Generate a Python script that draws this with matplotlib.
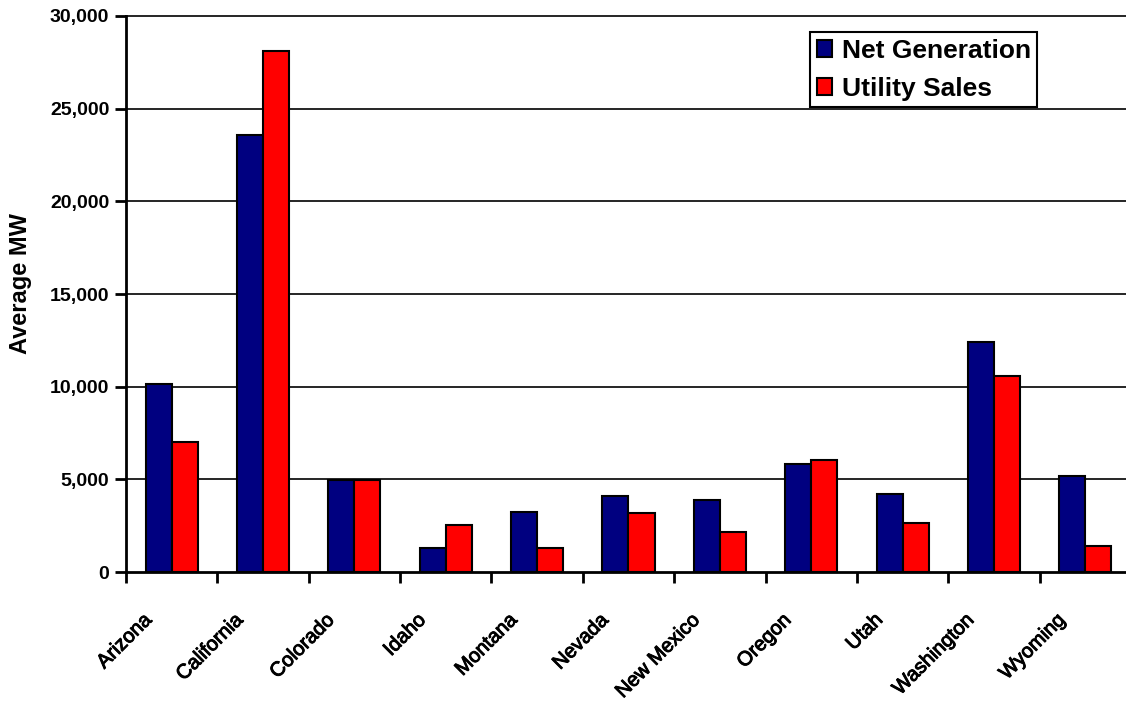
import numpy as np
import matplotlib
matplotlib.use("Agg")
import matplotlib.pyplot as plt
import matplotlib.patches as mpatches
import matplotlib.patheffects as pe
from matplotlib.transforms import ScaledTranslation

plt.rcParams['font.family'] = ['Liberation Sans', 'DejaVu Sans']

# data (average MW)
states = ["Arizona", "California", "Colorado", "Idaho", "Montana", "Nevada",
          "New Mexico", "Oregon", "Utah", "Washington", "Wyoming"]
net_generation = [10150, 23600, 4950, 1300, 3250, 4080, 3870, 5850, 4190, 12400, 5160]
utility_sales = [7000, 28130, 4950, 2550, 1300, 3200, 2140, 6030, 2630, 10600, 1400]
y_ticks = [0, 5000, 10000, 15000, 20000, 25000, 30000]

navy = '#000080'
red = '#ff0000'

fig = plt.figure(figsize=(11.26, 7.07), dpi=100)
ax = fig.add_axes([0.1119, 0.1909, 0.8925, 0.7865])

x = np.arange(len(states))
w = 0.285
ax.bar(x - w / 2, net_generation, w, color=navy, edgecolor='black', linewidth=1.5, zorder=3)
ax.bar(x + w / 2, utility_sales, w, color=red, edgecolor='black', linewidth=1.5, zorder=3)

ax.set_xlim(-0.5, len(states) - 0.5)
ax.set_ylim(0, 30000)

# gridlines
for yv in y_ticks[1:]:
    ax.axhline(yv, color='black', linewidth=1.2, zorder=1, clip_on=False)

ax.spines['top'].set_visible(False)
ax.spines['right'].set_visible(False)
ax.spines['left'].set_linewidth(2)
ax.spines['bottom'].set_linewidth(2)

ax.set_yticks(y_ticks)
ax.set_yticklabels([f'{v:,}' for v in y_ticks], fontsize=14, fontweight='bold')
ax.tick_params(axis='y', direction='out', length=8, width=2, pad=4)

# boundaries get the tick marks, centres get the labels
ax.set_xticks(np.arange(len(states) + 1) - 0.5, minor=True)
ax.set_xticks(x)
ax.set_xticklabels(states, fontsize=14.5, rotation=45, ha='right', va='center',
                   rotation_mode='anchor')
ax.tick_params(axis='x', which='major', length=0, pad=0)
ax.tick_params(axis='x', which='minor', direction='out', length=8, width=2)
shift = ScaledTranslation(-23 / 100, -45 / 100, fig.dpi_scale_trans)
for lab in ax.get_xticklabels():
    lab.set_transform(lab.get_transform() + shift)
    lab.set_path_effects([pe.withStroke(linewidth=0.7, foreground='black')])

ax.set_ylabel('Average MW', fontsize=17, fontweight='bold')
ax.yaxis.set_label_coords(-0.0935, 0.518)

handles = [mpatches.Patch(facecolor=navy, edgecolor='black', linewidth=1.5, label='Net Generation'),
           mpatches.Patch(facecolor=red, edgecolor='black', linewidth=1.5, label='Utility Sales')]
leg = ax.legend(handles=handles, loc='upper left',
                bbox_to_anchor=(810 / 1126, 1 - 32 / 707), bbox_transform=fig.transFigure,
                prop={'size': 19, 'weight': 'bold'}, fancybox=False, framealpha=1,
                edgecolor='black', handlelength=0.6, handleheight=0.6,
                handletextpad=0.35, borderpad=0.25, labelspacing=0.54, borderaxespad=0)
leg.get_frame().set_linewidth(1.5)
leg.set_zorder(5)

fig.savefig('out.png', dpi=100)
